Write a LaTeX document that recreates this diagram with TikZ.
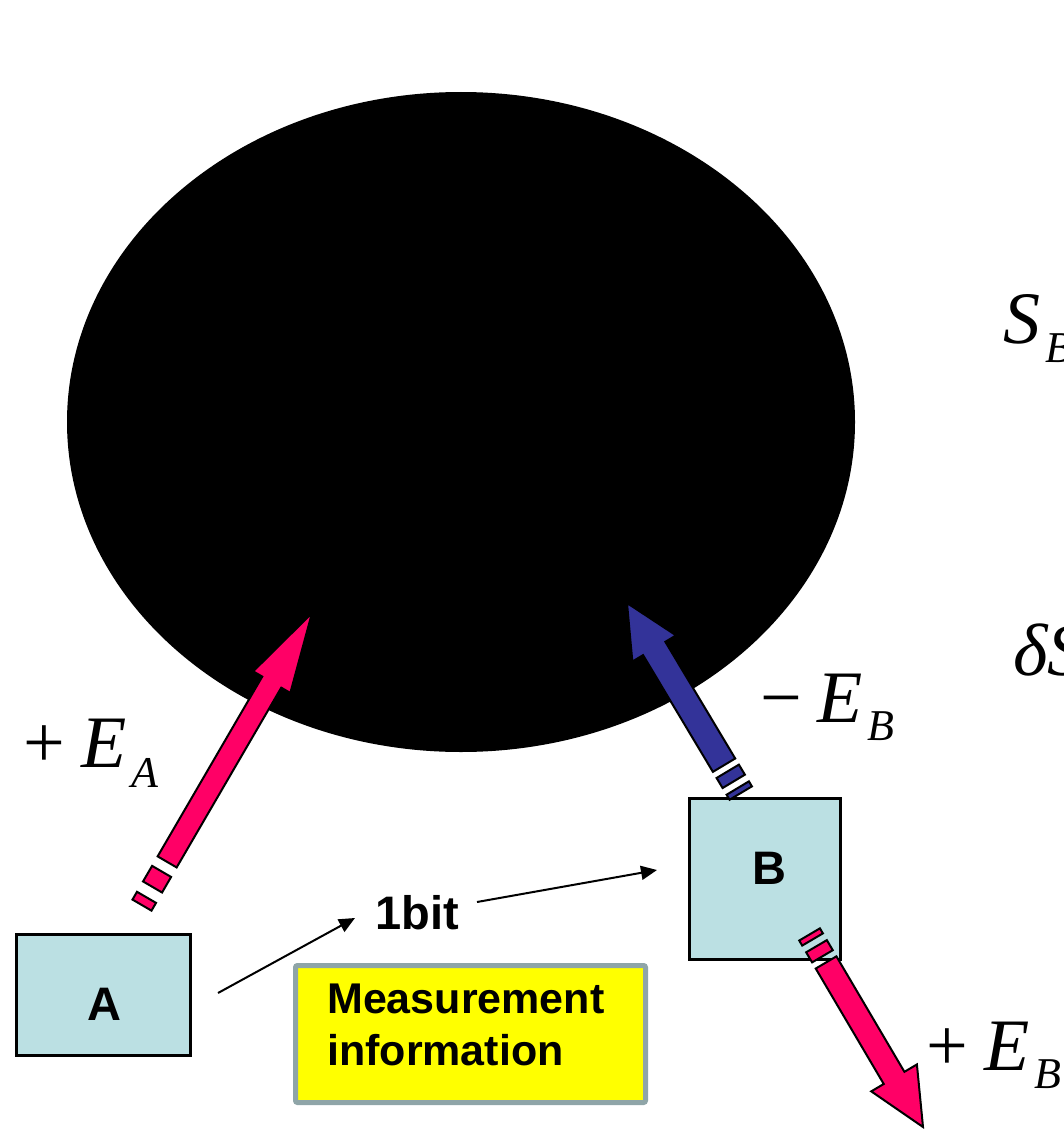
\documentclass[tikz,border=0pt]{standalone}
\usepackage{fontspec}
\setmainfont{Liberation Serif}
\newfontfamily\lsans{Liberation Sans}
\usetikzlibrary{arrows.meta}
\definecolor{pinkA}{HTML}{FF0066}
\definecolor{navyB}{HTML}{333399}
\definecolor{boxblue}{HTML}{BBE0E3}
\definecolor{yellowbox}{HTML}{FFFF00}
\definecolor{greyborder}{HTML}{8FA5A8}
% #1 tip coordinate, #2 angle (tip->tail), #3 shaft end distance, #4 shaft width,
% #5 head width, #6 head length, #7 colour, #8 stripe scale
\newcommand{\stripedarrow}[8]{%
  \begin{scope}[shift={#1}, rotate=#2]
    \path[arrowbody, fill=#7] (0,0) -- (#6,#5/2) -- (#6,#4/2) -- (#3,#4/2)
      -- (#3,-#4/2) -- (#6,-#4/2) -- (#6,-#5/2) -- cycle;
    \path[arrowbody, fill=#7] (#3+11*#8,-#4/2) rectangle (#3+29*#8,#4/2);
    \path[arrowbody, fill=#7] (#3+41*#8,-#4/2) rectangle (#3+50*#8,#4/2);
  \end{scope}}
\begin{document}
\begin{tikzpicture}[x=1pt, y=-1pt,
  arrowbody/.style={draw=black, line width=2pt, line join=miter},
  agentbox/.style={draw=black, fill=boxblue, line width=3pt, inner sep=0pt, anchor=north west},
  infobox/.style={draw=greyborder, fill=yellowbox, line width=5pt, rounded corners=2pt, inner sep=0pt, anchor=north west},
  sanslbl/.style={font=\lsans\bfseries\fontsize{47}{47}\selectfont, inner sep=0pt},
  infolbl/.style={font=\lsans\bfseries\fontsize{43}{43}\selectfont, inner sep=0pt, anchor=base west},
  mathlbl/.style={font=\fontsize{74}{74}\selectfont, inner sep=0pt, anchor=base west},
  link/.style={draw=black, line width=2pt, -{Triangle[length=16pt,width=14pt]}}]
  \clip (0,0) rectangle (1064,1129);
  \fill[white] (0,0) rectangle (1064,1129);
  % black hole
  \fill[black] (461,422) ellipse [x radius=394, y radius=330];
  % boxes
  \node[agentbox, minimum width=174pt, minimum height=121pt] (A) at (15,933) {};
  \node[agentbox, minimum width=151pt, minimum height=161pt] (B) at (688,797) {};
  \node[infobox, minimum width=350pt, minimum height=137pt] (info) at (293,963) {};
  \node[sanslbl, anchor=base] (Alabel) at (104,1020) {A};
  \node[sanslbl, anchor=base] (Blabel) at (769,884) {B};
  \node[infolbl] (infoL1) at (327,1013) {Measurement};
  \node[infolbl] (infoL2) at (327,1065) {information};
  \node[sanslbl, anchor=base west] (bit) at (375,929) {1bit};
  % connectors
  \coordinate (a1) at (218,993);
  \coordinate (a2) at (355,918);
  \coordinate (b1) at (477,902);
  \coordinate (b2) at (657,870);
  \draw[link] (a1) -- (a2);
  \draw[link] (b1) -- (b2);
  % striped block arrows
  \coordinate (tipA) at (312,613);
  \coordinate (tipBin) at (627,603);
  \coordinate (tipBout) at (923,1127);
  \stripedarrow{(tipA)}{239.8}{288}{22}{43}{80}{pinkA}{1}
  \stripedarrow{(tipBin)}{300.9}{189}{26}{51}{53}{navyB}{0.65}
  \stripedarrow{(tipBout)}{120.5}{191}{24}{53}{57}{pinkA}{0.65}
  % energy labels
  \node[mathlbl] (lEA) at (23,767) {+\hspace{17pt}\textit{E}\hspace{4pt}\raisebox{-20pt}{\fontsize{44}{44}\selectfont\textit{A}}};
  \node[mathlbl] (lEBm) at (760,722) {−\hspace{16pt}\textit{E}\hspace{4pt}\raisebox{-18pt}{\fontsize{44}{44}\selectfont\textit{B}}};
  \node[mathlbl] (lEBp) at (926,1070) {+\hspace{17pt}\textit{E}\hspace{4pt}\raisebox{-18pt}{\fontsize{44}{44}\selectfont\textit{B}}};
  \node[mathlbl] (lSB) at (1003,343) {\textit{S}\hspace{5pt}\raisebox{-19pt}{\fontsize{44}{44}\selectfont\textit{B}}};
  \node[mathlbl] (ldS) at (1013,675) {\textit{δS}};
\end{tikzpicture}
\end{document}
